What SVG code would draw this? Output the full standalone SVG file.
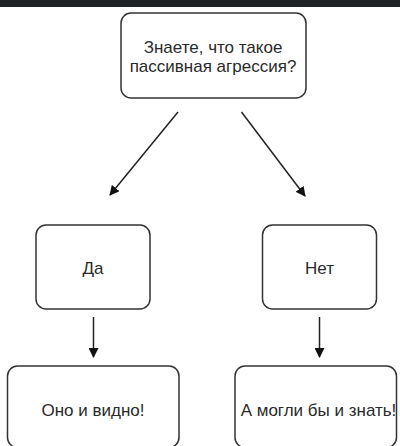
<svg xmlns="http://www.w3.org/2000/svg" width="400" height="446" viewBox="0 0 400 446">
<defs>
<style>
.node rect{fill:#ffffff;stroke:#333333;stroke-width:1.5}
.node text{font-family:"Liberation Sans",Arial,sans-serif;font-size:17px;fill:#2a2a2a;text-anchor:middle}
.edge{stroke:#222222;stroke-width:1.5;fill:none;marker-end:url(#arr)}
</style>
<marker id="arr" viewBox="0 0 10 10" refX="9" refY="5" markerWidth="10" markerHeight="10" markerUnits="userSpaceOnUse" orient="auto">
<path d="M0,0 L10,5 L0,10 z" fill="#111111"/>
</marker>
</defs>
<rect x="0" y="0" width="400" height="446" fill="#ffffff"/>
<rect x="0" y="0" width="400" height="7" fill="#1f2326"/>
<g id="q" class="node">
<rect x="121" y="13" width="185" height="85" rx="10"/>
<text x="213" y="53">Знаете, что такое</text>
<text x="213" y="72">пассивная агрессия?</text>
</g>
<g id="yes" class="node">
<rect x="36" y="225" width="114" height="84" rx="10"/>
<text x="93" y="274">Да</text>
</g>
<g id="no" class="node">
<rect x="262.5" y="225" width="114" height="84" rx="10"/>
<text x="319.5" y="274">Нет</text>
</g>
<g id="yes2" class="node">
<rect x="7.5" y="366" width="171.5" height="81.5" rx="10"/>
<text x="93" y="416">Оно и видно!</text>
</g>
<g id="no2" class="node">
<rect x="235" y="366" width="161.5" height="81.5" rx="10"/>
<text x="318.5" y="416">А могли бы и знать!</text>
</g>
<g id="connectors">
<line class="edge" x1="178" y1="112" x2="110" y2="195"/>
<line class="edge" x1="241.5" y1="112" x2="305" y2="196"/>
<line class="edge" x1="93.5" y1="317" x2="93.5" y2="357"/>
<line class="edge" x1="319.5" y1="317" x2="319.5" y2="357"/>
</g>
</svg>
